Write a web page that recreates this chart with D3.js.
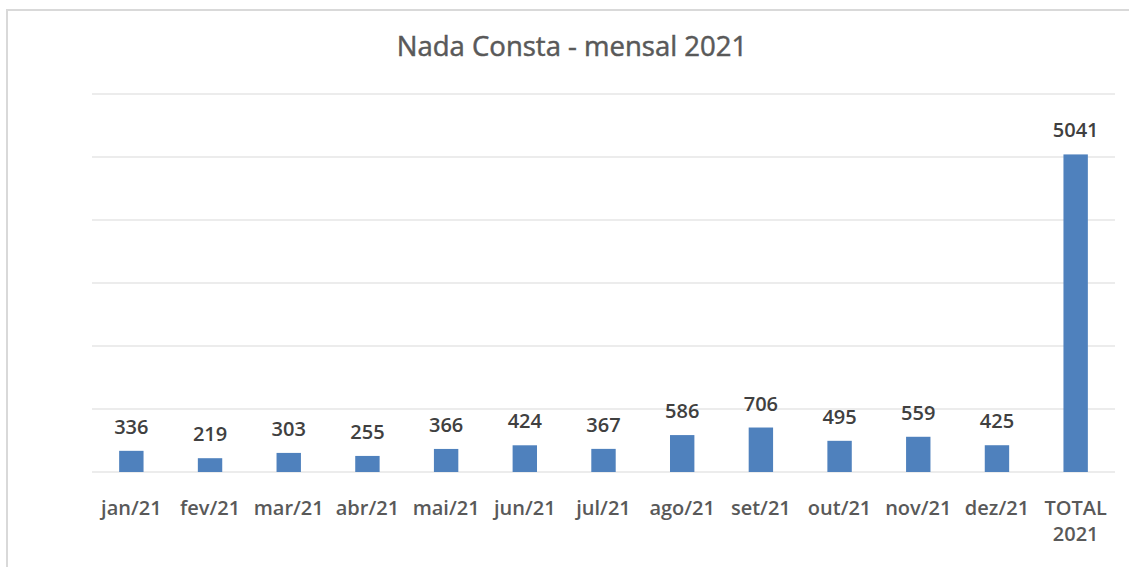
<!DOCTYPE html>
<html><head><meta charset="utf-8">
<script src="https://cdn.jsdelivr.net/npm/d3@7"></script>
<style>body{margin:0;background:#fff;}svg{display:block;}</style>
</head><body>
<svg id="c" width="1129" height="567"></svg>
<script>
const categories = ["jan/21","fev/21","mar/21","abr/21","mai/21","jun/21","jul/21","ago/21","set/21","out/21","nov/21","dez/21","TOTAL\n2021"];
const values = [336,219,303,255,366,424,367,586,706,495,559,425,5041];
const yTicks = [0,1000,2000,3000,4000,5000,6000];
const title = "Nada Consta - mensal 2021";

const svg = d3.select("#c");
const font = "'Open Sans', sans-serif";
// chart border
svg.append("rect").attr("x",7).attr("y",10).attr("width",1140).attr("height",600)
  .attr("fill","#fff").attr("stroke","#d9d9d9").attr("stroke-width",2);

const x = d3.scaleBand().domain(categories).range([92,1115]).paddingInner(0.69).paddingOuter(0.345);
const y = d3.scaleLinear().domain([0,6000]).range([472,94]);

svg.append("g").selectAll("line").data(yTicks).join("line")
  .attr("x1",92).attr("x2",1115).attr("y1",d=>y(d)).attr("y2",d=>y(d))
  .attr("stroke","#d9d9d9").attr("stroke-width",1);

svg.append("g").selectAll("rect").data(values).join("rect")
  .attr("x",(d,i)=>x(categories[i])).attr("width",x.bandwidth())
  .attr("y",d=>y(d)).attr("height",d=>y(0)-y(d)).attr("fill","#4F81BD");

svg.append("g").selectAll("text").data(values).join("text")
  .attr("x",(d,i)=>x(categories[i])+x.bandwidth()/2).attr("y",d=>y(d)-17)
  .attr("text-anchor","middle").attr("font-family",font).attr("font-size",20).attr("font-weight",600)
  .attr("fill","#404040").text(d=>d);

const xl = svg.append("g").selectAll("text").data(categories).join("text")
  .attr("x",d=>x(d)+x.bandwidth()/2).attr("y",515)
  .attr("text-anchor","middle").attr("font-family",font).attr("font-size",20).attr("font-weight",600)
  .attr("fill","#595959");
xl.each(function(d){
  const lines = d.split("\n");
  const t = d3.select(this);
  lines.forEach((l,i)=>t.append("tspan").attr("x",x(d)+x.bandwidth()/2).attr("dy",i?26:0).text(l));
});

svg.append("text").attr("x",572).attr("y",56).attr("text-anchor","middle")
  .attr("font-family",font).attr("font-size",27.5).attr("fill","#595959")
  .attr("stroke","#595959").attr("stroke-width",0.5).text(title);
</script>
</body></html>
